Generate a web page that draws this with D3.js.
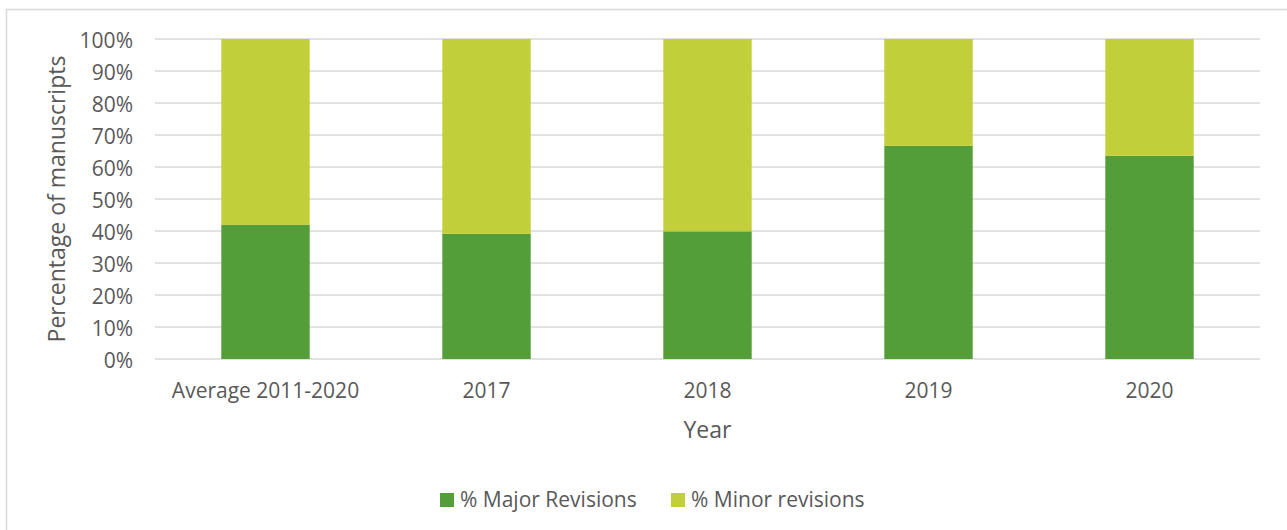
<!DOCTYPE html>
<html>
<head>
<meta charset="utf-8">
<script src="https://cdn.jsdelivr.net/npm/d3@7"></script>
<style>
  body { margin: 0; background: #fff; }
  svg { display: block; font-family: "Open Sans", sans-serif; }
</style>
</head>
<body>
<svg id="chart" width="1287" height="530"></svg>
<script>
// data
var categories = ["Average 2011-2020", "2017", "2018", "2019", "2020"];
var majorRevisions = [0.419, 0.391, 0.399, 0.666, 0.635];
var minorRevisions = [0.581, 0.609, 0.601, 0.334, 0.365];
var seriesNames = ["% Major Revisions", "% Minor revisions"];
var seriesColors = ["#549e39", "#c0cf3a"];
var yTicks = [0, 0.1, 0.2, 0.3, 0.4, 0.5, 0.6, 0.7, 0.8, 0.9, 1.0];

var svg = d3.select("#chart"),
    margin = {top: 39, right: 27, bottom: 171, left: 155},
    width = +svg.attr("width") - margin.left - margin.right,
    height = +svg.attr("height") - margin.top - margin.bottom;

// chart area border (only top and left are inside the picture)
svg.append("rect")
  .attr("x", 6.5).attr("y", 9.5)
  .attr("width", 1300).attr("height", 600)
  .attr("fill", "none")
  .attr("stroke", "#d9d9d9")
  .attr("stroke-width", 1.5);

var g = svg.append("g")
  .attr("transform", "translate(" + margin.left + "," + margin.top + ")");

var x = d3.scaleBand()
  .domain(categories)
  .range([0, width])
  .paddingInner(0.6)
  .paddingOuter(0.3);

var y = d3.scaleLinear()
  .domain([0, 1])
  .range([height, 0]);

// gridlines
g.append("g")
  .selectAll("line")
  .data(yTicks)
  .enter().append("line")
  .attr("x1", 0).attr("x2", width)
  .attr("y1", function(d) { return y(d); })
  .attr("y2", function(d) { return y(d); })
  .attr("stroke", "#d9d9d9")
  .attr("stroke-width", 1.5);

// y axis labels
var yAxis = g.append("g")
  .call(d3.axisLeft(y).tickValues(yTicks).tickFormat(d3.format(".0%")).tickSize(0).tickPadding(22));
yAxis.select(".domain").remove();
yAxis.selectAll("text")
  .attr("fill", "#595959")
  .attr("dy", "0.4em")
  .style("font-size", "21px")
  .style("font-family", "Open Sans, sans-serif");

// stacked bars
var rows = categories.map(function(c, i) {
  return {cat: c, major: majorRevisions[i], minor: minorRevisions[i]};
});
var stack = d3.stack().keys(["major", "minor"])(rows);

g.selectAll(".series")
  .data(stack)
  .enter().append("g")
  .attr("class", "series")
  .attr("fill", function(d, i) { return seriesColors[i]; })
  .selectAll("rect")
  .data(function(d) { return d; })
  .enter().append("rect")
  .attr("x", function(d) { return x(d.data.cat); })
  .attr("width", x.bandwidth())
  .attr("y", function(d) { return y(d[1]); })
  .attr("height", function(d) { return y(d[0]) - y(d[1]); });

// x axis labels
var xAxis = g.append("g")
  .attr("transform", "translate(0," + height + ")")
  .call(d3.axisBottom(x).tickSize(0).tickPadding(24));
xAxis.select(".domain").remove();
xAxis.selectAll("text")
  .attr("fill", "#595959")
  .style("font-size", "21px")
  .style("font-family", "Open Sans, sans-serif");

// axis titles
svg.append("text")
  .attr("transform", "translate(65," + (margin.top + height / 2) + ") rotate(-90)")
  .attr("text-anchor", "middle")
  .attr("fill", "#595959")
  .style("font-size", "23px")
  .text("Percentage of manuscripts");

svg.append("text")
  .attr("x", margin.left + width / 2)
  .attr("y", 438)
  .attr("text-anchor", "middle")
  .attr("fill", "#595959")
  .style("font-size", "23px")
  .text("Year");

// legend
var legendX = [440, 671];
var legend = svg.selectAll(".legend")
  .data(seriesNames)
  .enter().append("g")
  .attr("class", "legend")
  .attr("transform", function(d, i) { return "translate(" + legendX[i] + ",493)"; });

legend.append("rect")
  .attr("width", 14).attr("height", 14)
  .attr("fill", function(d, i) { return seriesColors[i]; });

legend.append("text")
  .attr("x", 20).attr("y", 14)
  .attr("fill", "#595959")
  .style("font-size", "21px")
  .text(function(d) { return d; });
</script>
</body>
</html>
